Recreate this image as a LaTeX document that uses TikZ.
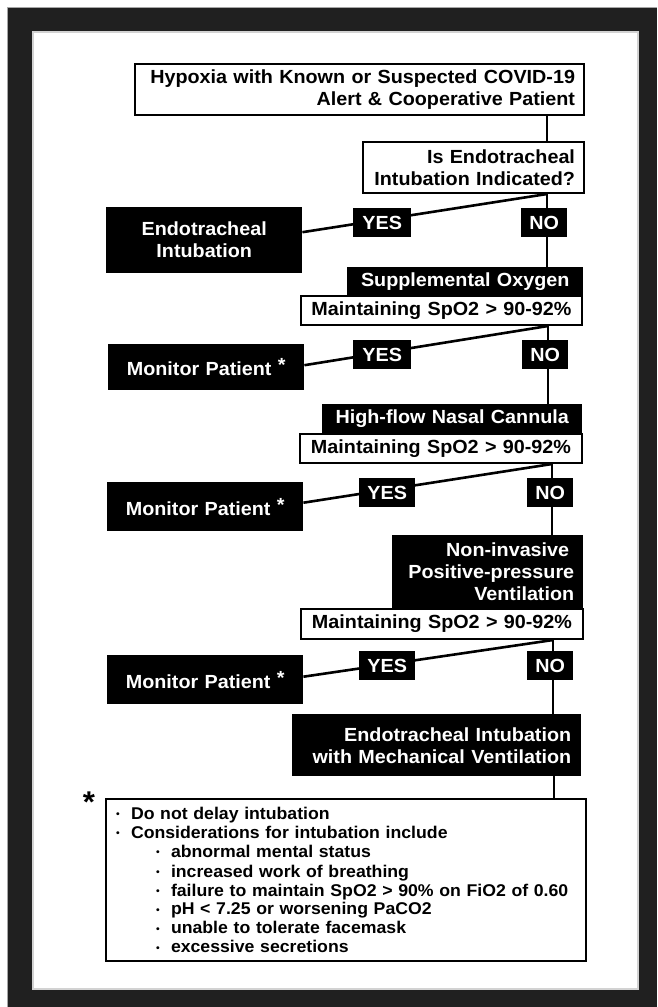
\documentclass[tikz,border=0pt]{standalone}
\usepackage{fontspec}
\setmainfont{Liberation Sans}[FakeStretch=1.04]
\usetikzlibrary{calc,backgrounds}
\definecolor{framecol}{HTML}{202020}
\newcommand\mainsz{\fontsize{19}{22}\selectfont\bfseries}
\newcommand\notesz{\fontsize{17}{18.9}\selectfont\bfseries}
\newcommand\bul{\makebox[15pt][l]{\raisebox{1.5pt}{\fontsize{10}{10}\selectfont\textbullet}}}
\begin{document}
\begin{tikzpicture}[x=1pt,y=-1pt,
  wbox/.style={draw=black, line width=2pt, fill=white, text=black, inner xsep=6pt, inner ysep=0pt, font=\mainsz, anchor=north west},
  bbox/.style={fill=black, text=white, inner xsep=6pt, inner ysep=0pt, font=\mainsz, anchor=north west},
  cbox/.style={inner xsep=3pt},
  lab/.style={fill=black, text=white, inner sep=0pt, font=\mainsz, anchor=north west, minimum height=29pt},
  conn/.style={line width=2.6pt, black}]
\begin{scope}[on background layer]
\fill[white] (0,0) rectangle (657,1007);
\useasboundingbox (0,0) rectangle (657,1007);
\fill[framecol] (7,7) rectangle (657,1007);
\draw[gray!70, line width=1pt] (7.5,1007) -- (7.5,7.5) -- (657,7.5);
\fill[white] (33,32) rectangle (638,989);
\draw[gray!35, line width=1.5pt] (33,32) rectangle (638,989);
\end{scope}

\node[wbox, text width=437pt, minimum height=51pt, align=right] (b1) at (134,63)
  {Hypoxia with Known or Suspected COVID-19\kern3pt\\Alert \& Cooperative Patient\kern3pt};
\node[wbox, text width=209pt, minimum height=51pt, align=right] (b2) at (362,141)
  {Is Endotracheal\kern3pt\\Intubation Indicated?\kern3pt};
\node[bbox, cbox, text width=190pt, minimum height=66pt, align=center] (ei) at (106,207)
  {Endotracheal\\Intubation};
\node[lab, minimum width=58pt] (yes1) at (353,208) {YES};
\node[lab, minimum width=46pt] (no1) at (521,208) {NO};
\node[bbox, cbox, text width=230pt, minimum height=28pt, align=center] (supp) at (347,267) {Supplemental Oxygen};
\node[wbox, cbox, text width=275pt, minimum height=29pt, align=center] (m1) at (300,295) {Maintaining SpO2 > 90-92\%};
\node[lab, minimum width=58pt] (yes2) at (353,340) {YES};
\node[lab, minimum width=46pt] (no2) at (522,340) {NO};
\node[bbox, cbox, text width=190pt, minimum height=46pt, align=center] (mon1) at (108,344) {Monitor Patient \raisebox{4pt}{*}};
\node[bbox, cbox, text width=254pt, minimum height=29pt, align=center] (hf) at (322,404) {High-flow Nasal Cannula};
\node[wbox, cbox, text width=276pt, minimum height=29pt, align=center] (m2) at (299,433) {Maintaining SpO2 > 90-92\%};
\node[lab, minimum width=56pt] (yes3) at (359,478) {YES};
\node[lab, minimum width=46pt] (no3) at (527,478) {NO};
\node[bbox, cbox, text width=190pt, minimum height=49pt, align=center] (mon2) at (107,482) {Monitor Patient \raisebox{4pt}{*}};
\node[bbox, text width=179pt, minimum height=73pt, align=right] (ni) at (392,535)
  {Non-invasive\kern8pt\\Positive-pressure\kern3pt\\Ventilation\kern3pt};
\node[wbox, cbox, text width=276pt, minimum height=30pt, align=center] (m3) at (300,608) {Maintaining SpO2 > 90-92\%};
\node[lab, minimum width=56pt] (yes4) at (359,651) {YES};
\node[lab, minimum width=46pt] (no4) at (527,651) {NO};
\node[bbox, cbox, text width=190pt, minimum height=49pt, align=center] (mon3) at (107,655) {Monitor Patient \raisebox{4pt}{*}};
\node[bbox, text width=277pt, minimum height=62pt, align=right] (em) at (292,714)
  {Endotracheal Intubation\kern4pt\\with Mechanical Ventilation\kern4pt};
\node[wbox, inner xsep=10pt, text width=460pt, minimum height=162pt, align=left, font=\notesz] (fn) at (105,798)
  {\bul Do not delay intubation\\
   \bul Considerations for intubation include\\
   \hspace*{40pt}\bul abnormal mental status\\[1pt]
   \hspace*{40pt}\bul increased work of breathing\\
   \hspace*{40pt}\bul failure to maintain SpO2 > 90\% on FiO2 of 0.60\\
   \hspace*{40pt}\bul pH < 7.25 or worsening PaCO2\\
   \hspace*{40pt}\bul unable to tolerate facemask\\
   \hspace*{40pt}\bul excessive secretions};
\node[font=\fontsize{30}{30}\selectfont\bfseries, inner sep=0pt] (ast) at (89,802) {*};

\coordinate (t1) at (547,0);
\coordinate (t2) at (548,0);
\coordinate (t3) at (552,0);
\coordinate (t4) at (553,0);
\coordinate (t5) at (554,0);
\begin{scope}[on background layer]
\draw[conn] (b1.south -| t1) -- (b2.north -| t1);
\draw[conn] (b2.south -| t1) -- (supp.north -| t1);
\draw[conn] (b2.south -| t1) -- ($(ei.east)+(0,-8)$);
\draw[conn] (m1.south -| t2) -- (hf.north -| t2);
\draw[conn] (m1.south -| t2) -- ($(mon1.east)+(0,-2)$);
\draw[conn] (m2.south -| t3) -- (ni.north -| t3);
\draw[conn] (m2.south -| t3) -- ($(mon2.east)+(0,-4)$);
\draw[conn] (m3.south -| t4) -- (em.north -| t4);
\draw[conn] (m3.south -| t4) -- ($(mon3.east)+(0,-3)$);
\draw[conn] (em.south -| t5) -- (fn.north -| t5);
\end{scope}
\end{tikzpicture}
\end{document}
